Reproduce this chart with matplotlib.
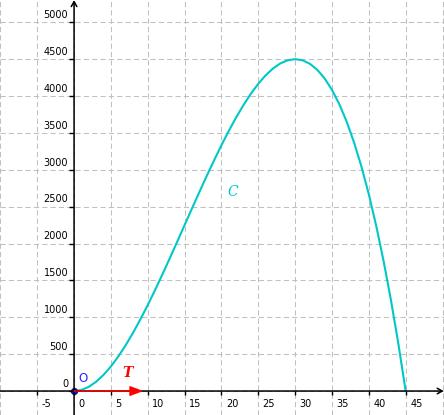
import matplotlib
matplotlib.use("Agg")
import matplotlib.pyplot as plt

# curve C at every unit of x
cx = list(range(0, 46))
cy = [0, 15, 57, 126, 219, 333, 468, 621, 789, 972,
      1167, 1371, 1584, 1803, 2025, 2250, 2475, 2697, 2916, 3129,
      3333, 3528, 3711, 3879, 4032, 4167, 4281, 4374, 4443, 4485,
      4500, 4485, 4437, 4356, 4239, 4083, 3888, 3651, 3369, 3042,
      2667, 2241, 1764, 1233, 645, 0]

# vector T from the origin
t_start = (0, 0)
t_end = (9.4, 0)

x_labels = [-5, 0, 5, 10, 15, 20, 25, 30, 35, 40, 45]
y_labels = [0, 500, 1000, 1500, 2000, 2500, 3000, 3500, 4000, 4500, 5000]
x_grid = list(range(-10, 55, 5))
y_grid = list(range(0, 5500, 500))

fig = plt.figure(figsize=(4.44, 4.15), dpi=100)
ax = fig.add_axes([0, 0, 1, 1])
ax.set_xlim(-10.05, 50.2)
ax.set_ylim(-325, 5302)

ax.set_xticks(x_grid)
ax.set_yticks(y_grid)
ax.grid(True, color="#c0c0c0", lw=0.75, linestyle=(0, (5, 3)))
ax.tick_params(length=0, labelbottom=False, labelleft=False)
for s in ax.spines.values():
    s.set_visible(False)

# axes with arrows
ax.annotate("", xy=(50.15, 0), xytext=(-10.5, 0),
            arrowprops=dict(arrowstyle="->,head_length=0.35,head_width=0.2",
                            lw=1.1, color="black", shrinkA=0, shrinkB=0))
ax.annotate("", xy=(0, 5300), xytext=(0, -400),
            arrowprops=dict(arrowstyle="->,head_length=0.35,head_width=0.2",
                            lw=1.1, color="black", shrinkA=0, shrinkB=0))

# tick marks and labels
ax.plot(x_labels, [0] * len(x_labels), ls="none", marker=3, ms=3,
        mew=1, color="black")
ax.plot([0] * len(y_labels), y_labels, ls="none", marker=0, ms=3.5,
        mew=1, color="black")
for v in x_labels:
    ax.annotate(str(v), xy=(v, 0), xytext=(3.2, -5.5),
                textcoords="offset points", ha="left", va="top",
                fontsize=7, color="black")
for v in y_labels:
    ax.annotate(str(v), xy=(0, v), xytext=(-4.3, 1.6),
                textcoords="offset points", ha="right", va="bottom",
                fontsize=7, color="black")

# curve C
ax.plot(cx, cy, color="#00c8c8", lw=1.5, solid_capstyle="butt")
ax.text(20.8, 2644, "C", color="#00c8c8", fontsize=10,
        family="DejaVu Serif", style="italic")

# vector T
ax.annotate("", xy=t_end, xytext=t_start,
            arrowprops=dict(arrowstyle="-|>,head_length=0.8,head_width=0.3",
                            lw=1.1, color="red", shrinkA=0, shrinkB=0))
ax.text(6.6, 190, "T", color="red", fontsize=10, family="DejaVu Serif",
        style="italic", weight="bold")

# origin point O
ax.plot([0], [0], marker="o", ms=4.5, color="#1010d0", mec="#000080",
        mew=0.6)
ax.annotate("O", xy=(0, 0), xytext=(3.4, 4.0), textcoords="offset points",
            ha="left", va="bottom", fontsize=8.5, color="#2828ff")

fig.savefig("out.png", dpi=100)
